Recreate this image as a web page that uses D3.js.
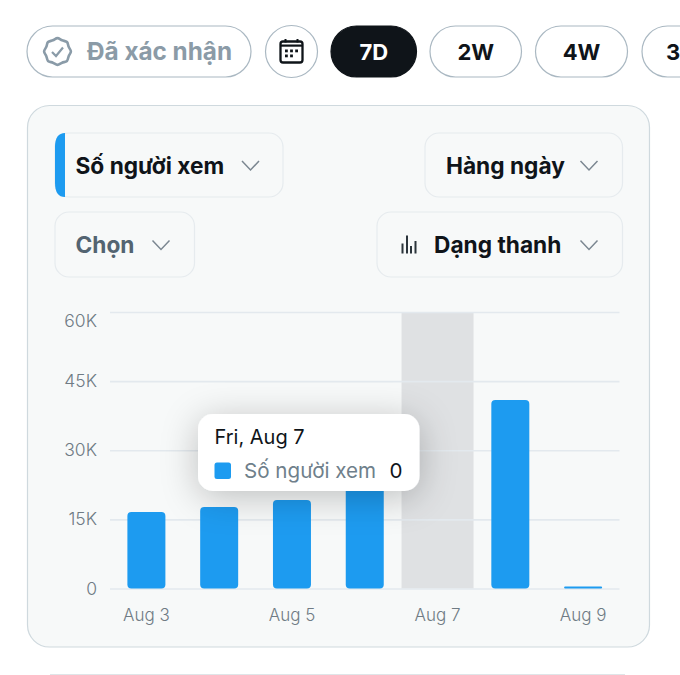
<!DOCTYPE html>
<html>
<head>
<meta charset="utf-8">
<script src="https://cdn.jsdelivr.net/npm/d3@7"></script>
<style>
  html, body { margin: 0; padding: 0; background: #fff; overflow: hidden; }
  svg { display: block; }
  text { font-family: Inter, "Noto Sans", sans-serif; }
</style>
</head>
<body>
<div id="chart"></div>
<script>
// chart values
let days = ["Aug 3", "Aug 4", "Aug 5", "Aug 6", "Aug 7", "Aug 8", "Aug 9"];
let viewers = [16600, 17700, 19200, 22000, 0, 40900, 450];
let yTicks = [0, 15000, 30000, 45000, 60000];
let xLabels = ["Aug 3", "Aug 5", "Aug 7", "Aug 9"];
let selectedDay = "Aug 7";
let seriesName = "Số người xem";
let tooltipTitle = "Fri, Aug 7";
let tooltipValue = "0";

let rangeButtons = [
    { label: "7D", x: 331, w: 85.5, on: true },
    { label: "2W", x: 430, w: 91.5 },
    { label: "4W", x: 535.5, w: 92 },
    { label: "3", x: 642, w: 92, textX: 666, start: true }
];
let dropdowns = [
    { label: seriesName, x: 55, y: 133, w: 228, h: 64, textX: 75.5, chevX: 250.5, color: "#0f1419" },
    { label: "Hàng ngày", x: 425, y: 133, w: 197.5, h: 64, textX: 446, chevX: 589, color: "#0f1419" },
    { label: "Chọn", x: 55, y: 212, w: 139.5, h: 65, textX: 75.5, chevX: 161, color: "#536471" },
    { label: "Dạng thanh", x: 377, y: 212, w: 245.5, h: 65, textX: 434, chevX: 589, color: "#0f1419" }
];

let svg = d3.select("#chart").append("svg")
    .attr("width", 680)
    .attr("height", 675);

let defs = svg.append("defs");
let shadow = defs.append("filter").attr("id", "tipShadow")
    .attr("x", "-40%").attr("y", "-80%").attr("width", "180%").attr("height", "280%");
shadow.append("feDropShadow")
    .attr("dx", 0).attr("dy", 6)
    .attr("stdDeviation", 18)
    .attr("flood-color", "#000")
    .attr("flood-opacity", 0.24);

// top row of pills
let pillBorder = "#aab8c2";

svg.append("rect")
    .attr("x", 27).attr("y", 26).attr("width", 224).attr("height", 51).attr("rx", 25.5)
    .attr("fill", "#fff").attr("stroke", pillBorder).attr("stroke-width", 1.2);

// verified badge, wavy circle
let badge = svg.append("g").attr("transform", "translate(57.5,51.5)");
let badgeLine = d3.lineRadial().curve(d3.curveCatmullRomClosed);
let badgePoints = d3.range(16).map(function (i) {
    return [i * Math.PI / 8, i % 2 == 0 ? 13.4 : 12.1];
});
badge.append("path")
    .attr("d", badgeLine(badgePoints))
    .attr("fill", "none").attr("stroke", "#8a9ba8").attr("stroke-width", 2.6);
badge.append("path")
    .attr("d", "M-5.5,0.5 L-1.5,4.5 L5.5,-4")
    .attr("fill", "none").attr("stroke", "#8a9ba8").attr("stroke-width", 2.2);

svg.append("text")
    .attr("x", 87).attr("y", 60)
    .attr("font-size", 24.3).attr("font-weight", 700).attr("fill", "#8b9ba7")
    .text("Đã xác nhận");

// calendar button
svg.append("circle")
    .attr("cx", 291.5).attr("cy", 51.5).attr("r", 26)
    .attr("fill", "#fff").attr("stroke", pillBorder).attr("stroke-width", 1.2);
let cal = svg.append("g").attr("transform", "translate(291.5,51.5)");
cal.append("rect")
    .attr("x", -11).attr("y", -10).attr("width", 22).attr("height", 21).attr("rx", 2.5)
    .attr("fill", "none").attr("stroke", "#0f1419").attr("stroke-width", 2.3);
cal.append("rect").attr("x", -11).attr("y", -7).attr("width", 22).attr("height", 2.2).attr("fill", "#0f1419");
cal.selectAll(".calPeg")
    .data([-7, 5])
    .enter().append("rect")
    .attr("class", "calPeg")
    .attr("x", function (d) { return d; }).attr("y", -12.5).attr("width", 2).attr("height", 3.5)
    .attr("fill", "#0f1419");
cal.selectAll(".calDot")
    .data([[-6.5, -2], [-1.4, -2], [3.7, -2], [-6.5, 3], [-1.4, 3]])
    .enter().append("rect")
    .attr("class", "calDot")
    .attr("x", function (d) { return d[0]; }).attr("y", function (d) { return d[1]; })
    .attr("width", 2.8).attr("height", 2.8)
    .attr("fill", "#0f1419");

let pills = svg.selectAll(".rangeButton")
    .data(rangeButtons)
    .enter().append("g")
    .attr("class", "rangeButton");
pills.append("rect")
    .attr("x", function (d) { return d.x; })
    .attr("y", 26)
    .attr("width", function (d) { return d.w; })
    .attr("height", 51)
    .attr("rx", 25.5)
    .attr("fill", function (d) { return d.on ? "#0f1419" : "#fff"; })
    .attr("stroke", function (d) { return d.on ? "#0f1419" : pillBorder; })
    .attr("stroke-width", 1.2);
pills.append("text")
    .attr("x", function (d) { return d.start ? d.textX : d.x + d.w / 2; })
    .attr("y", 60)
    .attr("text-anchor", function (d) { return d.start ? "start" : "middle"; })
    .attr("font-size", 22).attr("font-weight", 700)
    .attr("fill", function (d) { return d.on ? "#fff" : "#0f1419"; })
    .text(function (d) { return d.label; });

// card
svg.append("rect")
    .attr("x", 27.5).attr("y", 105.5).attr("width", 622).attr("height", 541.5).attr("rx", 22)
    .attr("fill", "#f7f9f9").attr("stroke", "#cfd9de").attr("stroke-width", 1.2);

// start of the next card, bottom edge
svg.append("line")
    .attr("x1", 50).attr("x2", 625).attr("y1", 674.5).attr("y2", 674.5)
    .attr("stroke", "#dfe5e8").attr("stroke-width", 1.2);

// dropdowns
let drops = svg.selectAll(".dropdown")
    .data(dropdowns)
    .enter().append("g")
    .attr("class", "dropdown");
drops.append("rect")
    .attr("x", function (d) { return d.x; })
    .attr("y", function (d) { return d.y; })
    .attr("width", function (d) { return d.w; })
    .attr("height", function (d) { return d.h; })
    .attr("rx", 14)
    .attr("fill", "#f7f9f9")
    .attr("stroke", "#e6ebee")
    .attr("stroke-width", 1.2);
drops.append("text")
    .attr("x", function (d) { return d.textX; })
    .attr("y", function (d) { return d.y + d.h / 2 + 8.5; })
    .attr("font-size", 22.7).attr("font-weight", 700)
    .attr("fill", function (d) { return d.color; })
    .text(function (d) { return d.label; });
drops.append("path")
    .attr("d", function (d) {
        let cy = d.y + d.h / 2 + 0.5;
        return "M" + (d.chevX - 8.5) + "," + (cy - 4.5) + " L" + d.chevX + "," + (cy + 4.5) + " L" + (d.chevX + 8.5) + "," + (cy - 4.5);
    })
    .attr("fill", "none").attr("stroke", "#7b8791").attr("stroke-width", 1.5);

// blue marker on the first dropdown
svg.append("path")
    .attr("d", "M65,133 L65,197 Q55,197 55,183 L55,147 Q55,133 65,133 Z")
    .attr("fill", "#1d9bf0");

// small bar icon in the chart type dropdown
svg.selectAll(".typeIcon")
    .data([[401.5, 10], [406, 18], [410, 7.5], [414.5, 12.5]])
    .enter().append("rect")
    .attr("class", "typeIcon")
    .attr("x", function (d) { return d[0]; })
    .attr("y", function (d) { return 253.5 - d[1]; })
    .attr("width", 2)
    .attr("height", function (d) { return d[1]; })
    .attr("fill", "#2b343b");

// chart
let x = d3.scaleBand().domain(days).range([110, 619.5]).paddingInner(0);
let y = d3.scaleLinear().domain([0, 60000]).range([588.5, 312]);
let barWidth = 38;

let plot = svg.append("g");

plot.append("rect")
    .attr("x", x(selectedDay) + 0.4)
    .attr("y", y(60000))
    .attr("width", x.bandwidth() - 0.8)
    .attr("height", y(0) - y(60000))
    .attr("fill", "#dfe1e3");

let yAxis = d3.axisLeft(y)
    .tickValues(yTicks)
    .tickSize(-(619.5 - 110))
    .tickPadding(13)
    .tickFormat(function (d) { return d == 0 ? "0" : (d / 1000) + "K"; });

let yG = plot.append("g").attr("transform", "translate(110,0)").call(yAxis);
yG.select(".domain").remove();
yG.selectAll(".tick line").attr("stroke", "#e3e9ee").attr("stroke-width", 1.6);
yG.selectAll(".tick text")
    .attr("font-size", 17.5).attr("font-weight", 300).attr("fill", "#6f7b84")
    .style("font-family", "Inter, sans-serif");
// the top label sits below its gridline
yG.selectAll(".tick text")
    .filter(function (d) { return d == 60000; })
    .attr("dy", "0.32em")
    .attr("y", 9);

let xAxis = d3.axisBottom(x).tickValues(xLabels).tickSize(0).tickPadding(20);
let xG = plot.append("g").attr("transform", "translate(0,588.5)").call(xAxis);
xG.select(".domain").remove();
xG.selectAll(".tick text")
    .attr("font-size", 17).attr("font-weight", 300).attr("fill", "#6f7b84")
    .style("font-family", "Inter, sans-serif");

plot.selectAll(".bar")
    .data(days)
    .enter().append("path")
    .attr("class", "bar")
    .attr("d", function (d, i) {
        let left = x(d) + (x.bandwidth() - barWidth) / 2;
        let top = y(viewers[i]);
        let h = y(0) - top;
        if (h <= 0) return null;
        let r = Math.min(4, h / 2);
        return "M" + left + "," + (top + r)
            + " Q" + left + "," + top + " " + (left + r) + "," + top
            + " L" + (left + barWidth - r) + "," + top
            + " Q" + (left + barWidth) + "," + top + " " + (left + barWidth) + "," + (top + r)
            + " L" + (left + barWidth) + "," + (top + h - r)
            + " Q" + (left + barWidth) + "," + (top + h) + " " + (left + barWidth - r) + "," + (top + h)
            + " L" + (left + r) + "," + (top + h)
            + " Q" + left + "," + (top + h) + " " + left + "," + (top + h - r)
            + " Z";
    })
    .attr("fill", "#1d9bf0");

// tooltip
let tip = svg.append("g");
tip.append("rect")
    .attr("x", 198).attr("y", 414).attr("width", 221.5).attr("height", 77).attr("rx", 15)
    .attr("fill", "#fff")
    .attr("filter", "url(#tipShadow)");
tip.append("text")
    .attr("x", 214.5).attr("y", 444)
    .attr("font-size", 20).attr("fill", "#0f1419")
    .text(tooltipTitle);
tip.append("rect")
    .attr("x", 214.5).attr("y", 462.5).attr("width", 16.5).attr("height", 16.5).attr("rx", 2.5)
    .attr("fill", "#1d9bf0");
tip.append("text")
    .attr("x", 244).attr("y", 478)
    .attr("font-size", 20.6).attr("fill", "#6f7f8b")
    .text(seriesName);
tip.append("text")
    .attr("x", 402.5).attr("y", 478)
    .attr("text-anchor", "end")
    .attr("font-size", 20.6).attr("fill", "#0f1419")
    .text(tooltipValue);
</script>
</body>
</html>
